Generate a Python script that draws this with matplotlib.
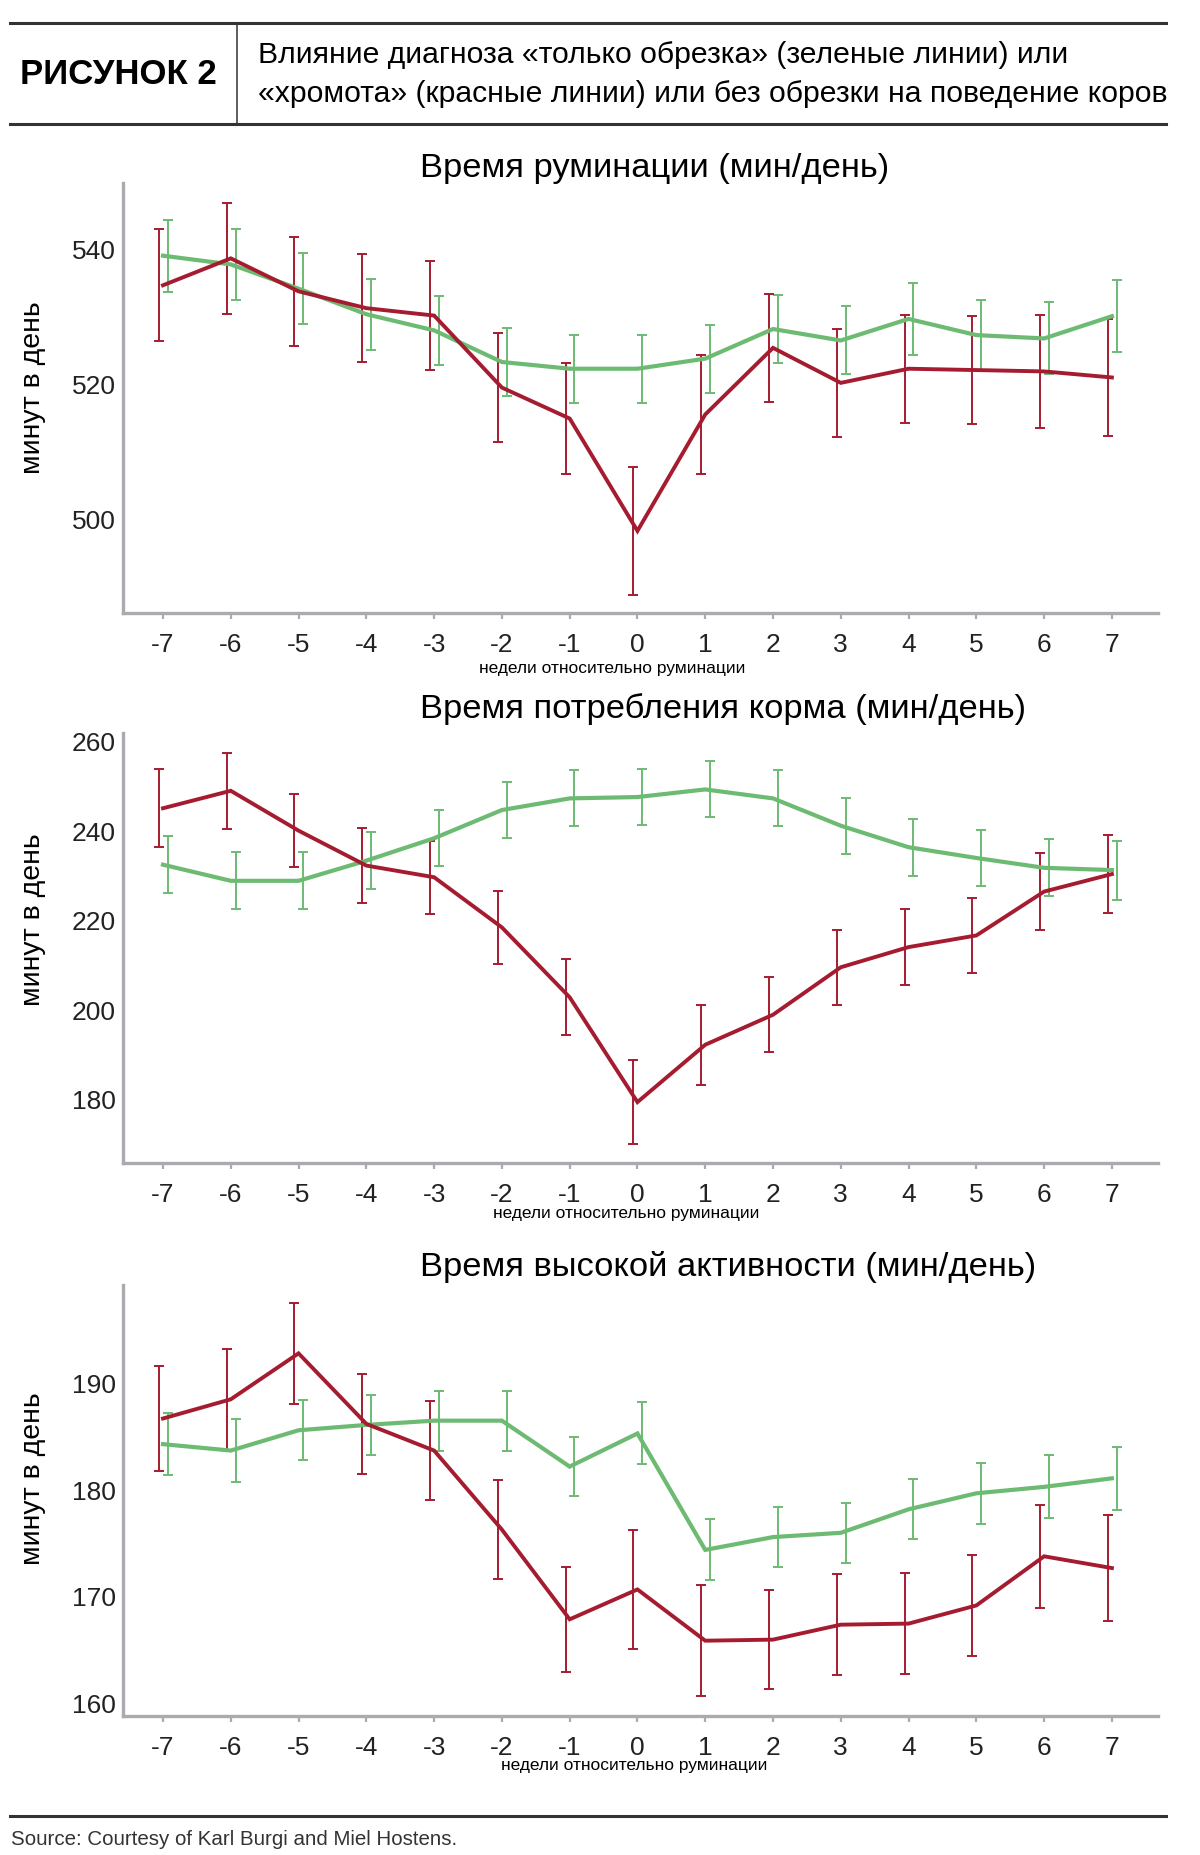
import matplotlib
matplotlib.use("Agg")
import matplotlib.pyplot as plt
from matplotlib.lines import Line2D
import numpy as np

plt.rcParams['font.family'] = ['Liberation Sans', 'DejaVu Sans']
plt.rcParams['axes.unicode_minus'] = False

# ---- данные ----
weeks = list(range(-7, 8))

rum_green = [539.0, 537.7, 534.1, 530.3, 527.9, 523.2, 522.2, 522.2, 523.7, 528.1, 526.4, 529.6, 527.2, 526.7, 530.0]
rum_green_err = [5.35, 5.3, 5.3, 5.3, 5.1, 5.1, 5.05, 5.05, 5.05, 5.1, 5.05, 5.3, 5.25, 5.35, 5.35]
rum_red = [534.6, 538.6, 533.7, 531.2, 530.1, 519.4, 514.8, 498.1, 515.4, 525.3, 520.1, 522.2, 522.0, 521.8, 520.9]
rum_red_err = [8.35, 8.3, 8.05, 8.0, 8.1, 8.05, 8.3, 9.55, 8.9, 8.05, 8.0, 8.0, 8.05, 8.4, 8.65]

feed_green = [232.3, 228.7, 228.7, 233.2, 238.2, 244.5, 247.1, 247.4, 249.1, 247.1, 241.0, 236.2, 233.8, 231.6, 231.1]
feed_green_err = [6.4, 6.4, 6.4, 6.3, 6.2, 6.25, 6.25, 6.25, 6.25, 6.25, 6.25, 6.4, 6.35, 6.4, 6.6]
feed_red = [244.9, 248.8, 239.9, 232.1, 229.5, 218.3, 202.7, 179.3, 192.1, 198.8, 209.4, 213.9, 216.5, 226.3, 230.2]
feed_red_err = [8.75, 8.5, 8.15, 8.35, 8.1, 8.2, 8.5, 9.45, 8.95, 8.35, 8.4, 8.4, 8.45, 8.6, 8.65]

act_green = [184.2, 183.6, 185.5, 186.0, 186.4, 186.4, 182.1, 185.2, 174.3, 175.5, 175.9, 178.1, 179.6, 180.2, 181.0]
act_green_err = [2.9, 2.95, 2.8, 2.8, 2.8, 2.8, 2.75, 2.9, 2.85, 2.8, 2.8, 2.8, 2.85, 2.95, 2.95]
act_red = [186.6, 188.4, 192.7, 186.1, 183.6, 176.2, 167.8, 170.6, 165.8, 165.9, 167.3, 167.4, 169.1, 173.7, 172.6]
act_red_err = [4.9, 4.75, 4.7, 4.7, 4.65, 4.65, 4.9, 5.6, 5.2, 4.6, 4.7, 4.7, 4.75, 4.8, 4.95]

titles = ["Время руминации (мин/день)",
          "Время потребления корма (мин/день)",
          "Время высокой активности (мин/день)"]
yticks_list = [[500, 520, 540], [180, 200, 220, 240, 260], [160, 170, 180, 190]]
ylims = [(485.9, 549.8), (165.7, 261.7), (158.75, 199.1)]

GREEN = "#6dbb73"
RED = "#a51c30"
SPINE = "#a9abae"
W, H = 1200, 1856

def fx(x):
    return x / W

def fy(y):
    return 1 - y / H

fig = plt.figure(figsize=(12, 18.56), dpi=100)

# ---- шапка ----
for y in (24, 125):
    fig.add_artist(Line2D([fx(10), fx(1166)], [fy(y), fy(y)], transform=fig.transFigure,
                          color="#333333", lw=2.2))
fig.add_artist(Line2D([fx(237), fx(237)], [fy(24), fy(125)], transform=fig.transFigure,
                      color="#333333", lw=1.1))
fig.text(fx(20), fy(75), "РИСУНОК 2", fontsize=25, fontweight="bold", va="center", ha="left")
fig.text(fx(258), fy(55), "Влияние диагноза «только обрезка» (зеленые линии) или",
         fontsize=21.7, va="center", ha="left")
fig.text(fx(258), fy(94), "«хромота» (красные линии) или без обрезки на поведение коров",
         fontsize=21.7, va="center", ha="left")

# ---- панели ----
panels = [
    (rum_green, rum_green_err, rum_red, rum_red_err),
    (feed_green, feed_green_err, feed_red, feed_red_err),
    (act_green, act_green_err, act_red, act_red_err),
]
tops = [184, 734, 1286]
bottoms = [614, 1164, 1717]
title_y = [168, 709, 1267]
ylabel_y = [388, 920, 1479]
xlabel_x = [612, 626, 634]
xlabel_y = [669, 1214, 1766]

x = np.array(weeks)
for i, (g, ge, r, re_) in enumerate(panels):
    ax = fig.add_axes([fx(123), fy(bottoms[i]), fx(1158) - fx(123), (bottoms[i] - tops[i]) / H])
    ax.errorbar(x + 0.07, g, yerr=ge, fmt="none", ecolor=GREEN, elinewidth=1.4,
                capsize=3.3, capthick=1.4, zorder=2)
    ax.errorbar(x - 0.06, r, yerr=re_, fmt="none", ecolor=RED, elinewidth=1.4,
                capsize=3.3, capthick=1.4, zorder=2)
    ax.plot(x, g, color=GREEN, lw=3.0, zorder=3, solid_joinstyle="miter")
    ax.plot(x, r, color=RED, lw=2.8, zorder=4, solid_joinstyle="miter")

    ax.set_xlim(-7.59, 7.68)
    ax.set_ylim(*ylims[i])
    ax.set_xticks(weeks)
    ax.set_xticklabels([str(w) for w in weeks])
    ax.set_yticks(yticks_list[i])
    for s in ("top", "right"):
        ax.spines[s].set_visible(False)
    for s in ("left", "bottom"):
        ax.spines[s].set_color(SPINE)
        ax.spines[s].set_linewidth(2.4)
    ax.tick_params(axis="x", length=4, width=1.6, color=SPINE, labelsize=19, pad=10,
                   labelcolor="#222222")
    ax.tick_params(axis="y", length=0, labelsize=19, pad=5, labelcolor="#222222")
    ax.set_facecolor("none")

    fig.text(fx(420), fy(title_y[i]), titles[i], fontsize=24.8, ha="left", va="center")
    fig.text(fx(33), fy(ylabel_y[i]), "минут в день", rotation=90,
             fontsize=20.5, ha="center", va="center")
    fig.text(fx(xlabel_x[i]), fy(xlabel_y[i]), "недели относительно руминации", fontsize=12.5,
             ha="center", va="center")

# ---- подвал ----
fig.add_artist(Line2D([fx(10), fx(1166)], [fy(1817), fy(1817)], transform=fig.transFigure,
                      color="#333333", lw=2.2))
fig.text(fx(11), fy(1840), "Source: Courtesy of Karl Burgi and Miel Hostens.", fontsize=14.8,
         ha="left", va="center", color="#333333")

fig.savefig("out.png", dpi=100)
